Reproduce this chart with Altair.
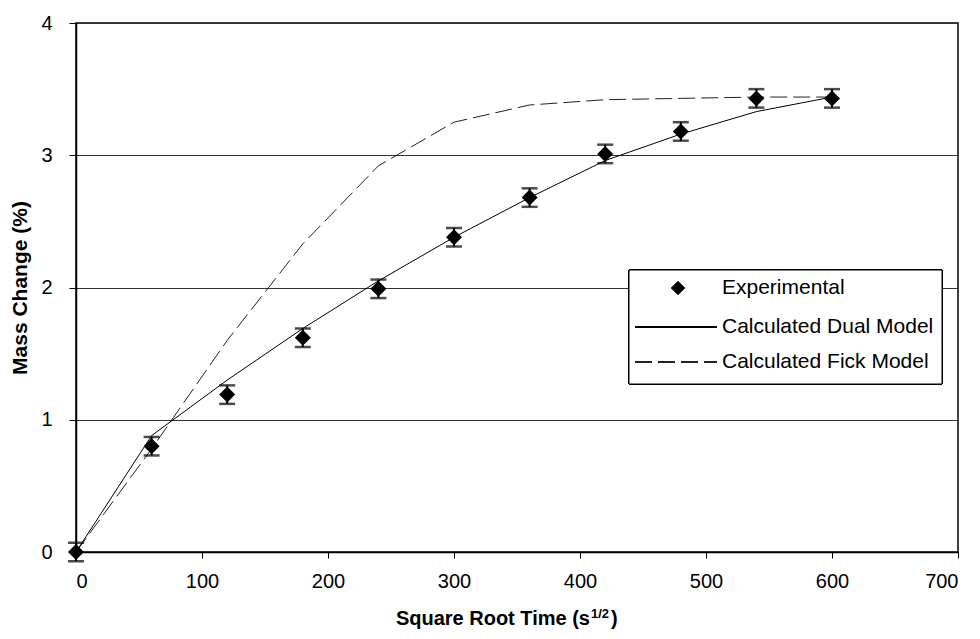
import altair as alt
import pandas as pd

time_x = [0, 60, 120, 180, 240, 300, 360, 420, 480, 540, 600]
experimental = [0.0, 0.80, 1.19, 1.62, 1.99, 2.38, 2.68, 3.01, 3.18, 3.43, 3.43]
err = [0.07] * 11
dual_model = [0.0, 0.88, 1.30, 1.69, 2.05, 2.38, 2.68, 2.96, 3.16, 3.33, 3.44]
fick_model = [0.0, 0.78, 1.60, 2.33, 2.92, 3.25, 3.38, 3.42, 3.43, 3.44, 3.44]

df = pd.DataFrame({
    "x": time_x,
    "exp": experimental,
    "lo": [e - d for e, d in zip(experimental, err)],
    "hi": [e + d for e, d in zip(experimental, err)],
    "dual": dual_model,
    "fick": fick_model,
})

W, H = 882, 529
FONT = "Liberation Sans"

xs = alt.Scale(domain=[0, 700], nice=False)
ys = alt.Scale(domain=[0, 4], nice=False)
xax = alt.Axis(values=list(range(0, 701, 100)), grid=False, title=None, format="d",
               labelFontSize=20, labelFont=FONT, labelColor="black",
               tickColor="black", tickSize=6, domainColor="black", domainWidth=1.5,
               labelPadding=13)
yax = alt.Axis(values=[0, 1, 2, 3, 4], grid=True, gridColor="#333", gridWidth=1, format="d",
               title="Mass Change (%)", titleFontSize=21, titleFont=FONT,
               titleFontWeight="bold", titleColor="black", titlePadding=10,
               labelFontSize=20, labelFont=FONT, labelColor="black",
               tickColor="black", tickSize=7, domainColor="black", domainWidth=1.5,
               labelPadding=17)

base = alt.Chart(df)

fick = base.mark_line(color="#222", strokeWidth=1, strokeDash=[17, 6]).encode(
    x=alt.X("x:Q", scale=xs, axis=xax),
    y=alt.Y("fick:Q", scale=ys, axis=yax),
)
dual = base.mark_line(color="black", strokeWidth=1).encode(
    x=alt.X("x:Q", scale=xs), y=alt.Y("dual:Q", scale=ys))
bars = base.mark_rule(color="black", strokeWidth=2).encode(
    x="x:Q", y="lo:Q", y2="hi:Q")
cap_lo = base.mark_tick(color="black", orient="horizontal", size=16, thickness=2.5).encode(
    x="x:Q", y="lo:Q")
cap_hi = base.mark_tick(color="black", orient="horizontal", size=16, thickness=2.5).encode(
    x="x:Q", y="hi:Q")
pts = base.mark_point(shape="diamond", filled=True, color="black", size=256, opacity=1).encode(
    x="x:Q", y="exp:Q")

# legend
lg_box = base.mark_rect(fill="white", stroke="black", strokeWidth=1).encode(
    x=alt.value(553), x2=alt.value(866), y=alt.value(247), y2=alt.value(361))
lg_pt = base.mark_point(shape="diamond", filled=True, color="black", size=169, opacity=1).encode(
    x=alt.value(602), y=alt.value(265))
lg_l1 = base.mark_rule(color="black", strokeWidth=1).encode(
    x=alt.value(559), x2=alt.value(641), y=alt.value(304))
lg_l2 = base.mark_rule(color="#222", strokeWidth=1, strokeDash=[17, 6]).encode(
    x=alt.value(559), x2=alt.value(641), y=alt.value(339))
legend_labels = ["Experimental", "Calculated Dual Model", "Calculated Fick Model"]
lg_txt = []
for lab, yy in zip(legend_labels, [265, 304, 339]):
    lg_txt.append(alt.Chart(pd.DataFrame({"t": [lab]})).mark_text(
        align="left", baseline="middle", fontSize=21, font=FONT, color="black").encode(
        x=alt.value(646), y=alt.value(yy), text="t:N"))

# x title with superscript
t1 = alt.Chart(pd.DataFrame({"t": ["Square Root Time (s"]})).mark_text(
    align="right", baseline="alphabetic", fontSize=20, font=FONT, fontWeight="bold",
    color="black").encode(x=alt.value(514), y=alt.value(602), text="t:N")
t2 = alt.Chart(pd.DataFrame({"t": ["1/2"]})).mark_text(
    align="left", baseline="alphabetic", fontSize=13, font=FONT, fontWeight="bold",
    color="black").encode(x=alt.value(515), y=alt.value(595), text="t:N")
t3 = alt.Chart(pd.DataFrame({"t": [")"]})).mark_text(
    align="left", baseline="alphabetic", fontSize=20, font=FONT, fontWeight="bold",
    color="black").encode(x=alt.value(535), y=alt.value(602), text="t:N")

chart = alt.layer(fick, dual, bars, cap_lo, cap_hi, pts, lg_box, lg_pt, lg_l1, lg_l2,
                  *lg_txt, t1, t2, t3).properties(
    width=W, height=H,
    padding={"left": 76, "top": 23, "right": 22, "bottom": 87},
    autosize=alt.AutoSizeParams(type="none"),
    background="white",
).configure_view(stroke="black", strokeWidth=1.5)

chart.save("out.html", embed_options={"renderer": "svg", "actions": False})
